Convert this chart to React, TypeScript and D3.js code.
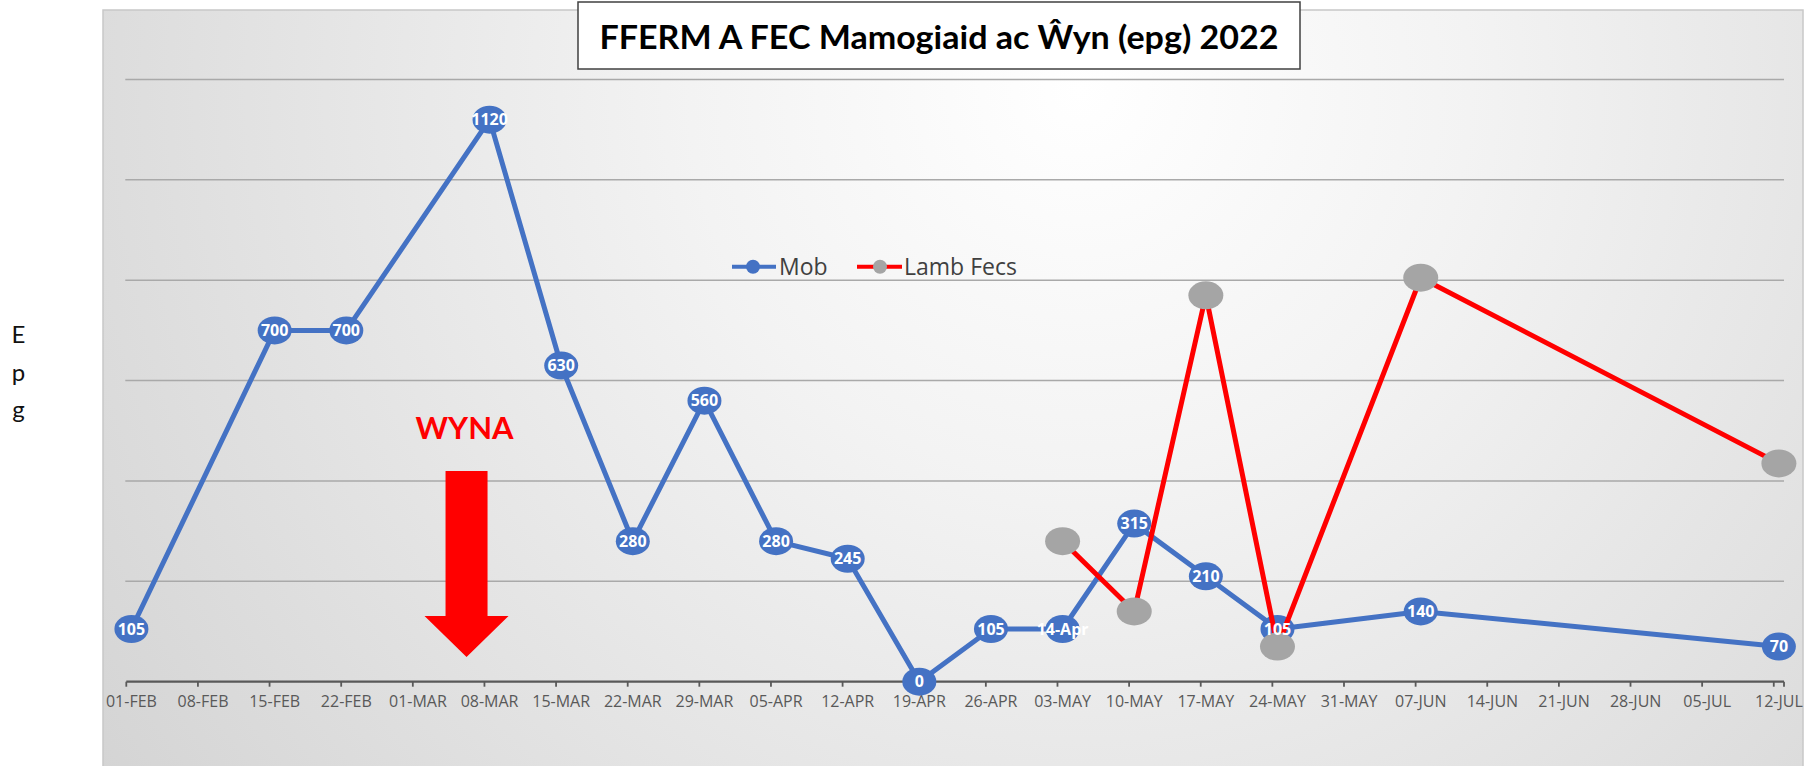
import * as d3 from 'd3'

// Mob (ewe) faecal egg counts, epg
const mobDates = [
  '2022-02-01', '2022-02-15', '2022-02-22', '2022-03-08', '2022-03-15', '2022-03-22',
  '2022-03-29', '2022-04-05', '2022-04-12', '2022-04-19', '2022-04-26', '2022-05-03',
  '2022-05-10', '2022-05-17', '2022-05-24', '2022-06-07', '2022-07-12',
]
const mobValues = [105, 700, 700, 1120, 630, 280, 560, 280, 245, 0, 105, 105, 315, 210, 105, 140, 70]
// one label in the sheet was formatted as a date
const mobLabels = ['105', '700', '700', '1120', '630', '280', '560', '280', '245', '0', '105', '14-Apr', '315', '210', '105', '140', '70']

// Lamb faecal egg counts
const lambDates = ['2022-05-03', '2022-05-10', '2022-05-17', '2022-05-24', '2022-06-07', '2022-07-12']
const lambValues = [280, 140, 770, 70, 805, 435]

const gridValues = [200, 400, 600, 800, 1000, 1200]
const axisStart = '2022-02-01'
const axisEnd = '2022-07-13'
const tickStepDays = 7

// lambing annotation, in data space
const wynaDate = '2022-03-06T06:00:00Z'
const wynaTextValue = 483
const arrowTop = 420
const arrowHeadBase = 131
const arrowTip = 49

const W = 1809
const H = 766
const BLUE = '#4472C4'
const RED = '#FF0000'
const GREY = '#A5A5A5'

const day = (s: string) => new Date(s + 'T00:00:00Z')
const mid = (d: Date) => d3.utcHour.offset(d, 12)

export default function App() {
  const start = day(axisStart)
  const end = day(axisEnd)
  const x = d3.scaleUtc().domain([start, end]).range([126.3, 1784])
  const y = d3.scaleLinear().domain([0, 1200]).range([681.7, 79.5])

  const nDays = d3.utcDay.count(start, end)
  const ticks = d3.range(0, nDays, tickStepDays).map(n => d3.utcDay.offset(start, n))
  const fmt = d3.utcFormat('%d-%b')

  const mob = mobDates.map((d, i) => ({ x: x(mid(day(d))), y: y(mobValues[i]), label: mobLabels[i] }))
  const lamb = lambDates.map((d, i) => ({ x: x(mid(day(d))), y: y(lambValues[i]) }))

  const line = d3.line<{ x: number; y: number }>().x(d => d.x).y(d => d.y)

  const ax = x(new Date(wynaDate))
  const arrow = [
    [ax - 21, y(arrowTop)],
    [ax + 21, y(arrowTop)],
    [ax + 21, y(arrowHeadBase)],
    [ax + 42, y(arrowHeadBase)],
    [ax, y(arrowTip)],
    [ax - 42, y(arrowHeadBase)],
    [ax - 21, y(arrowHeadBase)],
  ]

  const [x0, x1] = x.range()
  const y0 = y(0)

  return (
    <svg width={W} height={H} style={{ position: 'absolute', left: 0, top: 0 }}>
      <defs>
        <radialGradient id="bg" gradientUnits="userSpaceOnUse" cx={1080} cy={90} r={1300}>
          <stop offset="0" stopColor="#ffffff" />
          <stop offset="0.3" stopColor="#f3f3f3" />
          <stop offset="1" stopColor="#d0d0d0" />
        </radialGradient>
      </defs>
      <rect x={0} y={0} width={W} height={H} fill="#fff" />
      <rect x={103} y={10} width={1700} height={770} fill="url(#bg)" stroke="#c8c8c8" strokeWidth={1.5} />

      {/* gridlines */}
      {gridValues.map(v => (
        <line key={v} x1={x0 - 1} x2={x1} y1={y(v)} y2={y(v)} stroke="#a9a9a9" strokeWidth={1.5} />
      ))}

      {/* x axis */}
      <line x1={x0} x2={x1} y1={y0} y2={y0} stroke="#595959" strokeWidth={2.3} />
      {[...ticks, end].map((t, i) => (
        <line key={i} x1={x(t)} x2={x(t)} y1={y0} y2={y0 + 5} stroke="#595959" strokeWidth={1.8} />
      ))}
      {ticks.map((t, i) => (
        <text key={i} x={x(mid(t))} y={707} textAnchor="middle"
          fontFamily="'Open Sans', sans-serif" fontSize={16} fill="#595959">
          {fmt(t).toUpperCase()}
        </text>
      ))}

      {/* Mob series */}
      <path d={line(mob)!} fill="none" stroke={BLUE} strokeWidth={5} strokeLinejoin="round" />
      {mob.map((p, i) => (
        <ellipse key={i} cx={p.x} cy={p.y} rx={17} ry={14} fill={BLUE} />
      ))}

      {/* Lamb Fecs series */}
      <path d={line(lamb)!} fill="none" stroke={RED} strokeWidth={5} strokeLinejoin="miter" />
      {lamb.map((p, i) => (
        <ellipse key={i} cx={p.x} cy={p.y} rx={17.5} ry={14} fill={GREY} />
      ))}

      {mob.map((p, i) => (
        <text key={i} x={p.x} y={p.y + 5.5} textAnchor="middle" fontFamily="'Open Sans', sans-serif"
          fontWeight={700} fontSize={16} fill="#fff">
          {p.label}
        </text>
      ))}

      {/* legend */}
      <g fontFamily="'Open Sans', sans-serif" fontSize={23} fill="#404040">
        <line x1={732} x2={776} y1={266.7} y2={266.7} stroke={BLUE} strokeWidth={4} />
        <circle cx={753} cy={266.7} r={7} fill={BLUE} />
        <text x={779} y={274.5}>Mob</text>
        <line x1={857} x2={902} y1={266.7} y2={266.7} stroke={RED} strokeWidth={4} />
        <circle cx={880} cy={266.7} r={7} fill={GREY} />
        <text x={904} y={274.5}>Lamb Fecs</text>
      </g>

      {/* title */}
      <rect x={578} y={2} width={722} height={67} fill="#fff" stroke="#404040" strokeWidth={1.5} />
      <text x={939} y={48.5} textAnchor="middle" fontFamily="Lato, sans-serif" fontWeight={700}
        fontSize={33} textLength={679} lengthAdjust="spacingAndGlyphs" fill="#000">
        FFERM A FEC Mamogiaid ac Ŵyn (epg) 2022
      </text>

      {/* lambing annotation */}
      <text x={ax - 2} y={y(wynaTextValue)} textAnchor="middle" fontFamily="Lato, sans-serif"
        fontWeight={700} fontSize={31} textLength={98} lengthAdjust="spacingAndGlyphs" fill={RED}>
        WYNA
      </text>
      <polygon points={arrow.map(p => p.join(',')).join(' ')} fill={RED} />

      {/* y axis title, stacked letters */}
      <g fontFamily="Lato, sans-serif" fontSize={24} fill="#111" textAnchor="middle">
        {['E', 'p', 'g'].map((c, i) => (
          <text key={c} x={18.5} y={343 + i * 37.5}>{c}</text>
        ))}
      </g>
    </svg>
  )
}
